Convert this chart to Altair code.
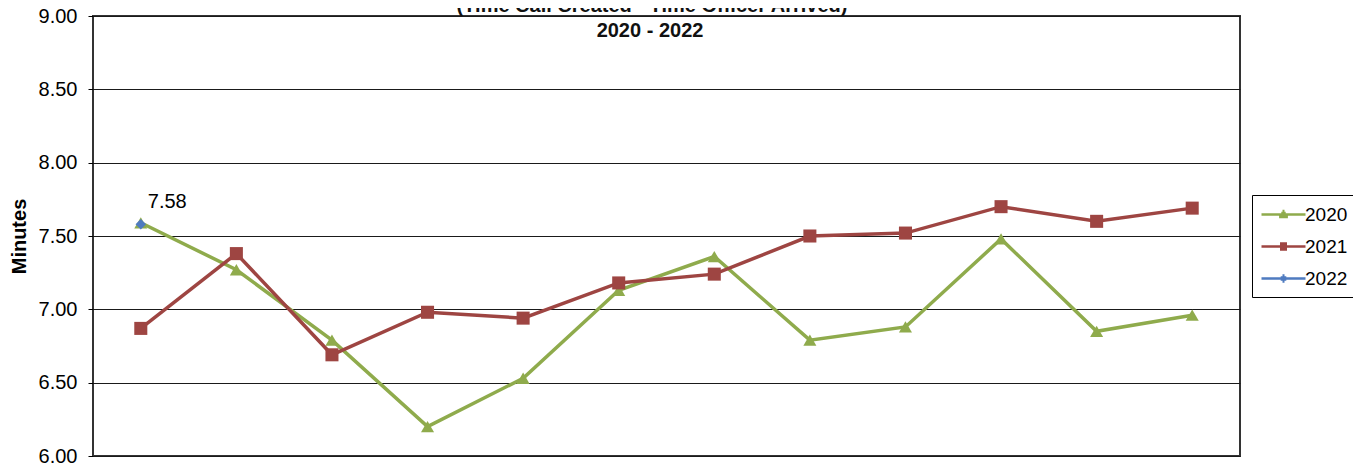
import altair as alt
import pandas as pd

MONTHS = ["Jan", "Feb", "Mar", "Apr", "May", "Jun", "Jul", "Aug", "Sep", "Oct", "Nov", "Dec"]
Y2020 = [7.59, 7.27, 6.79, 6.20, 6.53, 7.13, 7.36, 6.79, 6.88, 7.48, 6.85, 6.96]
Y2021 = [6.87, 7.38, 6.69, 6.98, 6.94, 7.18, 7.24, 7.50, 7.52, 7.70, 7.60, 7.69]
Y2022 = [7.58]
YEARS = ["2020", "2021", "2022"]
COLORS = ["#8fab4c", "#9e4542", "#4f7bc0"]
SHAPES = ["triangle-up", "square", "diamond"]
SIZES = [170, 170, 110]
# legend glyphs: a line with a small marker drawn from stacked strokes
LEGEND_SHAPES = [
    "M-1,0H3.4M1.1,-0.35H1.3M0.98,-0.15H1.42M0.86,0.05H1.54M0.76,0.25H1.64",
    "M-1,0H3.4M0.85,-0.3H1.55M0.85,-0.1H1.55M0.85,0.1H1.55M0.85,0.3H1.55",
    "M-1,0H3.4M1.1,-0.3H1.3M0.92,-0.1H1.48M0.92,0.1H1.48M1.1,0.3H1.3",
]
TITLE_LINES = ["(Time Call Created - Time Officer Arrived)", "2020 - 2022"]
Y_TICKS = [6.0, 6.5, 7.0, 7.5, 8.0, 8.5, 9.0]
FONT = "Liberation Sans"

rows = []
for yr, vals in zip(YEARS, [Y2020, Y2021, Y2022]):
    for m, v in zip(MONTHS, vals):
        rows.append({"month": m, "year": yr, "minutes": v})
df = pd.DataFrame(rows)

x_enc = alt.X("month:N", sort=MONTHS, scale=alt.Scale(type="point", padding=0.5), axis=None)
y_enc = alt.Y(
    "minutes:Q",
    scale=alt.Scale(domain=[6, 9], nice=False, zero=False),
    axis=alt.Axis(
        values=Y_TICKS, format=".2f", title="Minutes",
        labelFont=FONT, labelFontSize=20, labelColor="black", labelPadding=11,
        tickSize=5, tickColor="black", tickWidth=1,
        domain=False, grid=True, gridColor="#1a1a1a", gridWidth=1.2,
        titleFont=FONT, titleFontSize=20, titleFontWeight="bold", titleColor="black",
        titleX=-74, titleY=220, titleAngle=270, titleAlign="center", titleBaseline="middle",
    ),
)
color_scale = alt.Scale(domain=YEARS, range=COLORS)

base = alt.Chart(df)

leg = alt.Legend(
    title=None, orient="none", legendX=1159, legendY=179,
    strokeColor="black", fillColor="white", padding=8,
    symbolSize=400, symbolStrokeWidth=2.5, symbolOpacity=1,
    labelFont=FONT, labelFontSize=19, labelColor="black", labelOffset=22,
    rowPadding=10,
)
legend_layer = base.mark_point(filled=False, opacity=0).encode(
    x=x_enc, y=y_enc,
    color=alt.Color("year:N", scale=color_scale, legend=leg),
    shape=alt.Shape("year:N", scale=alt.Scale(domain=YEARS, range=LEGEND_SHAPES), legend=leg),
)

lines = base.mark_line(strokeWidth=3.5).encode(
    x=x_enc, y=y_enc, color=alt.Color("year:N", scale=color_scale, legend=None)
)
point_layers = [
    base.transform_filter(alt.datum.year == yr).mark_point(
        filled=True, shape=shp, size=sz, opacity=1
    ).encode(x=x_enc, y=y_enc, color=alt.Color("year:N", scale=color_scale, legend=None))
    for yr, shp, sz in zip(YEARS, SHAPES, SIZES)
]

label = base.transform_filter(alt.datum.year == "2022").mark_text(
    align="left", baseline="alphabetic", dx=7, dy=-16, font=FONT, fontSize=20, color="black"
).encode(x=x_enc, y=y_enc, text=alt.Text("minutes:Q", format=".2f"))

title1 = alt.Chart(pd.DataFrame({"t": [TITLE_LINES[0]]})).mark_text(
    align="center", baseline="alphabetic", font=FONT, fontSize=20, fontWeight="bold", color="#111"
).encode(text="t:N", x=alt.value(559), y=alt.value(-4))
title2 = alt.Chart(pd.DataFrame({"t": [TITLE_LINES[1]]})).mark_text(
    align="center", baseline="alphabetic", font=FONT, fontSize=20, fontWeight="bold", color="#111"
).encode(text="t:N", x=alt.value(557), y=alt.value(21))

chart = alt.layer(legend_layer, lines, *point_layers, label, title1, title2).properties(
    width=1147, height=440,
    autosize=alt.AutoSizeParams(type="none"),
    padding={"left": 85, "top": 8, "right": 113, "bottom": 9},
    background="white",
).configure_view(stroke="#333", strokeWidth=2)

chart.save("out.html", embed_options={"renderer": "svg", "actions": False})
